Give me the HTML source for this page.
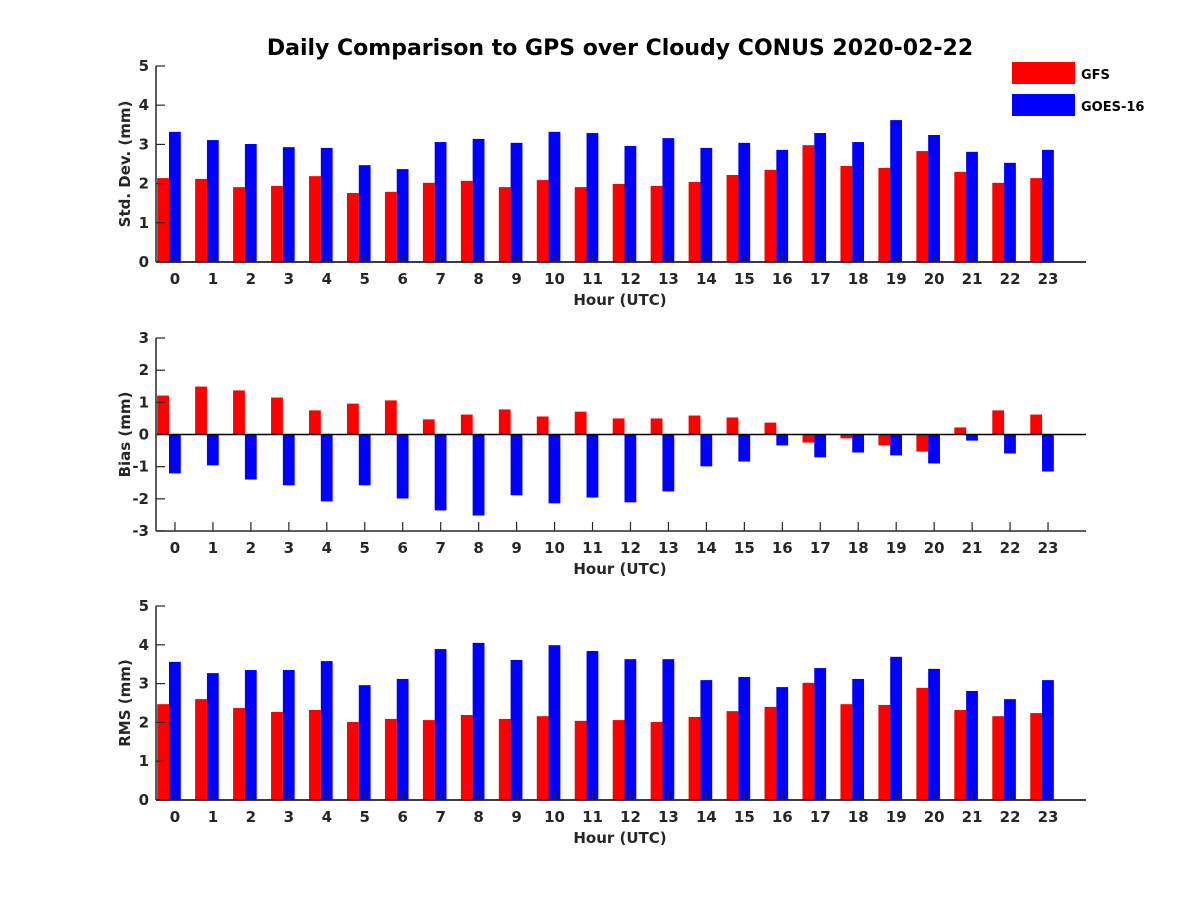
<!DOCTYPE html>
<html><head><meta charset="utf-8"><style>
body{margin:0;background:#fff;}
svg text{font-family:"DejaVu Sans","Liberation Sans",sans-serif;font-weight:bold;fill:#262626;}
</style></head><body>
<svg id="c" width="1200" height="900" xmlns="http://www.w3.org/2000/svg">
<text x="620" y="55" text-anchor="middle" font-size="22" style="fill:#000">Daily Comparison to GPS over Cloudy CONUS 2020-02-22</text>
<rect x="1012" y="62" width="63" height="22" fill="#ff0000"/>
<text x="1081" y="79" font-size="13" style="fill:#000">GFS</text>
<rect x="1012" y="94" width="63" height="22" fill="#0000ff"/>
<text x="1081" y="111" font-size="13" style="fill:#000">GOES-16</text>
</svg>
<script>
const hours=[0,1,2,3,4,5,6,7,8,9,10,11,12,13,14,15,16,17,18,19,20,21,22,23];
const stdGFS=[2.14,2.12,1.91,1.94,2.19,1.76,1.79,2.02,2.07,1.91,2.09,1.91,1.99,1.94,2.04,2.22,2.35,2.98,2.45,2.40,2.83,2.30,2.02,2.14];
const stdGOES=[3.32,3.11,3.01,2.93,2.91,2.47,2.37,3.06,3.14,3.04,3.32,3.29,2.96,3.16,2.91,3.04,2.86,3.29,3.06,3.62,3.24,2.81,2.53,2.86];
const biasGFS=[1.21,1.49,1.37,1.15,0.75,0.96,1.06,0.47,0.62,0.78,0.56,0.71,0.50,0.50,0.59,0.53,0.37,-0.25,-0.12,-0.34,-0.53,0.22,0.75,0.62];
const biasGOES=[-1.21,-0.96,-1.40,-1.58,-2.08,-1.58,-1.99,-2.36,-2.52,-1.89,-2.14,-1.96,-2.11,-1.77,-0.99,-0.84,-0.34,-0.71,-0.56,-0.65,-0.90,-0.19,-0.59,-1.15];
const rmsGFS=[2.47,2.60,2.37,2.27,2.32,2.01,2.09,2.06,2.19,2.09,2.16,2.04,2.06,2.01,2.14,2.29,2.40,3.02,2.47,2.45,2.89,2.32,2.16,2.24];
const rmsGOES=[3.56,3.27,3.35,3.35,3.58,2.96,3.12,3.89,4.05,3.61,3.99,3.84,3.63,3.63,3.09,3.17,2.91,3.40,3.12,3.69,3.38,2.81,2.60,3.09];
const stdTicks=[0,1,2,3,4,5];
const biasTicks=[-3,-2,-1,0,1,2,3];
const rmsTicks=[0,1,2,3,4,5];
const NS="http://www.w3.org/2000/svg";
const svg=document.getElementById('c');
function mk(tag,attrs,parent){const e=document.createElementNS(NS,tag);for(const k in attrs)e.setAttribute(k,attrs[k]);(parent||svg).appendChild(e);return e;}
const X0=156,X1=1086;
function xs(v){return X0+(v+0.5)/24.5*(X1-X0);}
function panel(key,top,bot,ymin,ymax,ticks,g1,g2,ylabel){
  const g=mk('g',{});
  
  
  const ys=v=>bot-(v-ymin)/(ymax-ymin)*(bot-top);
  const bw=11.8;
  hours.forEach((h,i)=>{
    [[g1,'#ff0000',-bw,'gfs'],[g2,'#0000ff',0,'goes']].forEach(([arr,col,off,nm])=>{
      const v=arr[i];const y0=ys(Math.max(0,ymin)),y1=ys(v);
      const r=mk('rect',{x:xs(h)-6+off,y:Math.min(y0,y1),width:bw,height:Math.abs(y1-y0),fill:col},g);
      
      
    });
  });
  const zy=ys(Math.max(0,ymin));
  mk('line',{x1:X0,y1:zy,x2:X1,y2:zy,stroke:'#000','stroke-width':1.5},g);
  mk('line',{x1:X0,y1:top,x2:X0,y2:bot,stroke:'#262626','stroke-width':1.5},g);
  mk('line',{x1:X0,y1:bot,x2:X1,y2:bot,stroke:'#262626','stroke-width':1.5},g);
  ticks.forEach(t=>{
    const y=ys(t);
    mk('line',{x1:X0,y1:y,x2:X0+9,y2:y,stroke:'#262626','stroke-width':1.2},g);
    const tx=mk('text',{x:X0-7,y:y+5,'text-anchor':'end','font-size':15},g);tx.textContent=t;
    
    
  });
  hours.forEach(h=>{
    mk('line',{x1:xs(h),y1:bot,x2:xs(h),y2:bot-9,stroke:'#262626','stroke-width':1.2},g);
    const tx=mk('text',{x:xs(h),y:bot+22,'text-anchor':'middle','font-size':15},g);tx.textContent=h;
    
    
  });
  const xl=mk('text',{x:620,y:bot+43,'text-anchor':'middle','font-size':15},g);xl.textContent='Hour (UTC)';
  
  
  const my=(top+bot)/2;
  const yl=mk('text',{x:130,y:my,'text-anchor':'middle','font-size':15,transform:'rotate(-90 130 '+my+')'},g);yl.textContent=ylabel;
  
  
}
panel('std',66,262,0,5,stdTicks,stdGFS,stdGOES,'Std. Dev. (mm)');
panel('bias',338,531,-3,3,biasTicks,biasGFS,biasGOES,'Bias (mm)');
panel('rms',606,800,0,5,rmsTicks,rmsGFS,rmsGOES,'RMS (mm)');
</script>
</body></html>
